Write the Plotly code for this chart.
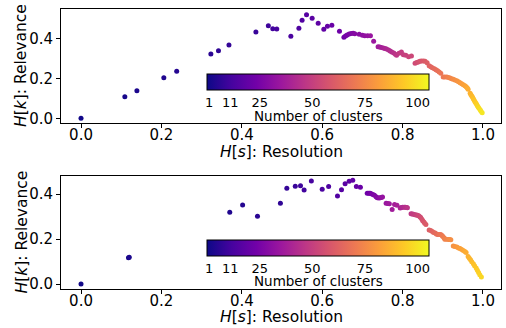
import plotly.graph_objects as go
from plotly.subplots import make_subplots

# Upper panel: resolution H[s], relevance H[k], number of clusters k
res_a = [0.000, 0.109, 0.139, 0.206, 0.238, 0.323, 0.342, 0.368, 0.435, 0.466,
         0.477, 0.487, 0.522, 0.542, 0.550, 0.561, 0.575, 0.590, 0.604, 0.613,
         0.624, 0.643,
         0.654, 0.658, 0.662, 0.667, 0.672, 0.677, 0.681,
         0.692, 0.700, 0.706, 0.713, 0.720,
         0.728,
         0.739, 0.743, 0.747, 0.752, 0.756, 0.760, 0.765, 0.769, 0.773, 0.778, 0.782, 0.785,
         0.791, 0.797, 0.802, 0.808, 0.815, 0.822,
         0.831, 0.835, 0.839, 0.843, 0.847, 0.852, 0.856, 0.861,
         0.866, 0.870, 0.874, 0.879, 0.883, 0.887, 0.891, 0.895,
         0.901, 0.905, 0.910, 0.914, 0.918, 0.922, 0.926, 0.930, 0.935, 0.939, 0.943,
         0.947, 0.951, 0.955, 0.958, 0.961, 0.963,
         0.968, 0.970, 0.972, 0.974, 0.976, 0.978, 0.980, 0.982, 0.984, 0.986, 0.988,
         0.990, 0.993, 0.995, 0.998]
rel_a = [0.000, 0.108, 0.138, 0.203, 0.235, 0.321, 0.338, 0.366, 0.432, 0.463,
         0.448, 0.447, 0.410, 0.450, 0.490, 0.518, 0.500, 0.475, 0.445, 0.460,
         0.465, 0.435,
         0.405, 0.412, 0.417, 0.421, 0.424, 0.425, 0.423,
         0.420, 0.415, 0.413, 0.413, 0.413,
         0.385,
         0.358, 0.356, 0.354, 0.352, 0.349, 0.346, 0.341, 0.337, 0.332, 0.327, 0.320, 0.315,
         0.325, 0.332, 0.318, 0.315, 0.308, 0.312,
         0.275, 0.279, 0.282, 0.285, 0.287, 0.286, 0.285, 0.278,
         0.263, 0.258, 0.253, 0.248, 0.243, 0.238, 0.232, 0.225,
         0.207, 0.207, 0.206, 0.204, 0.201, 0.198, 0.195, 0.191, 0.187, 0.183, 0.178,
         0.172, 0.167, 0.162, 0.158, 0.151, 0.145,
         0.125, 0.118, 0.111, 0.105, 0.098, 0.090, 0.083, 0.076, 0.070, 0.063, 0.056,
         0.050, 0.042, 0.035, 0.028]
k_a = [1, 2, 3, 4, 5, 6, 7, 8, 9, 10, 11, 12, 13, 14, 15, 16, 17, 18, 19, 20,
       21, 22, 23, 24, 25, 26, 27, 28, 29, 30, 31, 32, 33, 34, 35, 36, 37, 38, 39, 40,
       41, 42, 43, 44, 45, 46, 47, 48, 49, 50, 51, 52, 53, 54, 55, 56, 57, 58, 59, 60,
       61, 62, 63, 64, 65, 66, 67, 68, 69, 70, 71, 72, 73, 74, 75, 76, 77, 78, 79, 80,
       81, 82, 83, 84, 85, 86, 87, 88, 89, 90, 91, 92, 93, 94, 95, 96, 97, 98, 99, 100, 101]

# Lower panel
res_b = [0.000, 0.118, 0.120, 0.370, 0.402, 0.439, 0.496, 0.512, 0.533, 0.546,
         0.555, 0.573, 0.600, 0.616, 0.638, 0.648, 0.657, 0.667, 0.676, 0.685, 0.695,
         0.712, 0.716, 0.719, 0.722, 0.726, 0.730, 0.734, 0.737, 0.741, 0.744, 0.747, 0.750,
         0.759, 0.763, 0.767,
         0.774,
         0.780, 0.786,
         0.794, 0.797, 0.800, 0.804, 0.807, 0.810, 0.812,
         0.821, 0.824, 0.827, 0.831, 0.834, 0.837, 0.840, 0.843, 0.845, 0.848, 0.850,
         0.853, 0.855, 0.858,
         0.866, 0.870, 0.874, 0.877, 0.881, 0.884, 0.887, 0.891, 0.895, 0.898, 0.900,
         0.903, 0.905, 0.909, 0.914, 0.917, 0.920,
         0.926, 0.930, 0.935, 0.939, 0.943, 0.947, 0.951, 0.955, 0.958,
         0.963, 0.966, 0.969, 0.972, 0.976, 0.979, 0.983, 0.986, 0.989, 0.992, 0.996]
rel_b = [0.000, 0.117, 0.119, 0.320, 0.352, 0.302, 0.360, 0.427, 0.436, 0.438,
         0.419, 0.459, 0.422, 0.434, 0.392, 0.420, 0.447, 0.458, 0.462, 0.434, 0.431,
         0.404, 0.404, 0.404, 0.402, 0.399, 0.395, 0.389, 0.384, 0.383, 0.384, 0.386, 0.388,
         0.360, 0.359, 0.358,
         0.332,
         0.354, 0.351,
         0.339, 0.341, 0.342, 0.342, 0.342, 0.341, 0.340,
         0.313, 0.312, 0.311, 0.309, 0.308, 0.306, 0.304, 0.300, 0.296, 0.289, 0.282,
         0.276, 0.271, 0.265,
         0.241, 0.238, 0.234, 0.230, 0.227, 0.223, 0.221, 0.221, 0.221, 0.216, 0.212,
         0.206, 0.200, 0.199, 0.198, 0.198, 0.197,
         0.170, 0.167, 0.165, 0.161, 0.158, 0.154, 0.149, 0.145, 0.141,
         0.123, 0.115, 0.108, 0.099, 0.090, 0.081, 0.071, 0.061, 0.052, 0.042, 0.031]
k_b = [1, 2, 3, 4, 5, 6, 7, 8, 9, 10, 11, 12, 13, 14, 15, 16, 17, 18, 19, 20,
       21, 22, 23, 24, 25, 26, 27, 28, 29, 30, 31, 32, 33, 34, 35, 36, 37, 38, 39, 40,
       41, 42, 43, 44, 45, 46, 47, 48, 49, 50, 51, 52, 53, 54, 55, 56, 57, 58, 59, 60,
       61, 62, 63, 64, 65, 66, 67, 68, 69, 70, 71, 72, 73, 74, 75, 76, 77, 78, 79, 80,
       81, 82, 83, 84, 85, 86, 87, 88, 89, 90, 91, 92, 93, 94, 95, 96, 97]

x_ticks = [0.0, 0.2, 0.4, 0.6, 0.8, 1.0]
y_ticks = [0.0, 0.2, 0.4]
cbar_ticks = [1, 11, 25, 50, 75, 100]

X_TITLE = "<i>H</i>[<i>s</i>]: Resolution"
Y_TITLE = "<i>H</i>[<i>k</i>]: Relevance"
CBAR_TITLE = "Number of clusters"

FONT = "DejaVu Sans"
W, H = 506, 328
ML, MR, MT, MB = 61, 5, 9, 39
PW, PH = W - ML - MR, H - MT - MB


def px_to_paper(px_x=None, px_y=None):
    """Convert a pixel position on the canvas into paper coordinates."""
    fx = None if px_x is None else (px_x - ML) / PW
    fy = None if px_y is None else (H - MB - px_y) / PH
    return fx, fy


fig = make_subplots(rows=2, cols=1, vertical_spacing=0.188)


def cbar(y_top):
    return dict(
        orientation="h", x=0.5844, xanchor="center", y=y_top, yanchor="top",
        len=0.504, lenmode="fraction", thickness=16, xpad=0, ypad=0,
        outlinewidth=1, outlinecolor="black",
        tickvals=cbar_ticks, ticks="",
        tickfont=dict(family=FONT, size=13, color="black"),
    )


fig.add_trace(go.Scatter(x=res_a, y=rel_a, mode="markers",
                         marker=dict(size=5, color=k_a, coloraxis="coloraxis"),
                         showlegend=False), row=1, col=1)
fig.add_trace(go.Scatter(x=res_b, y=rel_b, mode="markers",
                         marker=dict(size=5, color=k_b, coloraxis="coloraxis2"),
                         showlegend=False), row=2, col=1)

axis_style = dict(showline=True, linecolor="black", linewidth=1, mirror=True,
                  ticks="outside", ticklen=4, tickcolor="black", showgrid=False,
                  zeroline=False, tickfont=dict(family=FONT, size=15, color="black"))

for r in (1, 2):
    fig.update_xaxes(range=[-0.0498, 1.0448], tickvals=x_ticks, tickformat=".1f",
                     ticklabelstandoff=-6, row=r, col=1, **axis_style)
    fig.update_yaxes(tickvals=y_ticks, tickformat=".1f", row=r, col=1, **axis_style)

fig.update_yaxes(range=[-0.0235, 0.5465], row=1, col=1)
fig.update_yaxes(range=[-0.022, 0.483], row=2, col=1)

# Axis and colorbar titles placed as paper annotations
title_font = dict(family=FONT, size=15.5, color="black")
cb_font = dict(family=FONT, size=13.5, color="black")
annotations = []
for x_title_y, y_title_y, cb_title_y in [(152, 66, 116), (317, 232.5, 281)]:
    cx, cy = px_to_paper(281, x_title_y)
    annotations.append(dict(text=X_TITLE, x=cx, y=cy, xref="paper", yref="paper",
                            xanchor="center", yanchor="middle", showarrow=False,
                            font=title_font))
    cx, cy = px_to_paper(21, y_title_y)
    annotations.append(dict(text=Y_TITLE, x=cx, y=cy, xref="paper", yref="paper",
                            xanchor="center", yanchor="middle", showarrow=False,
                            textangle=-90, font=title_font))
    cx, cy = px_to_paper(318, cb_title_y)
    annotations.append(dict(text=CBAR_TITLE, x=cx, y=cy, xref="paper", yref="paper",
                            xanchor="center", yanchor="middle", showarrow=False,
                            font=cb_font))

fig.update_layout(
    width=W, height=H,
    margin=dict(l=ML, r=MR, t=MT, b=MB),
    paper_bgcolor="white", plot_bgcolor="white",
    font=dict(family=FONT, size=15, color="black"),
    coloraxis=dict(colorscale="Plasma", cmin=0, cmax=105.5, colorbar=cbar(0.7668)),
    coloraxis2=dict(colorscale="Plasma", cmin=0, cmax=105.5, colorbar=cbar(0.175)),
    annotations=annotations,
)
fig.update_yaxes(domain=[0.593, 1.0], row=1, col=1)
fig.update_yaxes(domain=[0.0, 0.405], row=2, col=1)

fig.write_html("out.html")
